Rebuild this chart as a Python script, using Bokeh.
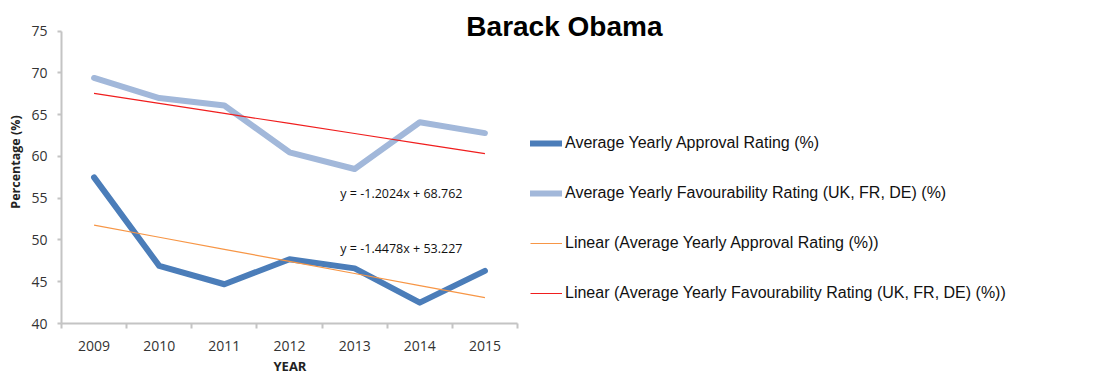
from bokeh.plotting import figure
from bokeh.models import (ColumnDataSource, Legend, LegendItem, Label, FixedTicker,
                          Range1d, Title)
from bokeh.embed import file_html
from bokeh.resources import INLINE

# ---- data ----
years = ["2009", "2010", "2011", "2012", "2013", "2014", "2015"]
approval = [57.5, 46.9, 44.7, 47.7, 46.6, 42.5, 46.3]
favourability = [69.4, 67.0, 66.1, 60.5, 58.5, 64.1, 62.8]
approval_trend_slope = -1.4478
approval_trend_intercept = 53.227
favour_trend_slope = -1.2024
favour_trend_intercept = 68.762
y_ticks = [40, 45, 50, 55, 60, 65, 70, 75]

title_text = "Barack Obama"
x_label = "YEAR"
y_label = "Percentage (%)"
series_names = [
    "Average Yearly Approval Rating (%)",
    "Average Yearly Favourability Rating (UK, FR, DE) (%)",
    "Linear (Average Yearly Approval Rating (%))",
    "Linear (Average Yearly Favourability Rating (UK, FR, DE) (%))",
]
eq_favour = "y = -1.2024x + 68.762"
eq_approval = "y = -1.4478x + 53.227"

xs = list(range(1, len(years) + 1))
approval_fit = [approval_trend_slope * x + approval_trend_intercept for x in xs]
favour_fit = [favour_trend_slope * x + favour_trend_intercept for x in xs]

src = ColumnDataSource(dict(x=xs, approval=approval, favour=favourability,
                            afit=approval_fit, ffit=favour_fit))

# ---- layout ----
W, H = 1095, 376
LEFT, BOTTOM_PX, TOP_AXIS_PX = 61, 323, 30.7     # canvas px
AXIS_RIGHT = 517
px_per_cat = (AXIS_RIGHT - LEFT) / 7.0
px_per_unit = (BOTTOM_PX - TOP_AXIS_PX) / 35.0
frame_w = W - 4 - LEFT
x_end = 0.5 + frame_w / px_per_cat
y_end = 75 + TOP_AXIS_PX / px_per_unit

p = figure(width=W, height=H, output_backend="svg", toolbar_location=None,
           x_range=Range1d(0.5, x_end), y_range=Range1d(40, y_end),
           min_border_left=LEFT, min_border_right=4, min_border_top=0,
           min_border_bottom=H - BOTTOM_PX)
p.outline_line_color = None
p.xgrid.visible = False
p.ygrid.visible = False
p.background_fill_color = "white"
p.border_fill_color = "white"

r_fav = p.line("x", "favour", source=src, line_color="#a2b8da", line_width=6,
               line_join="round", line_cap="round")
r_app = p.line("x", "approval", source=src, line_color="#4b7db9", line_width=6,
               line_join="round", line_cap="round")
r_afit = p.line("x", "afit", source=src, line_color="#f79646", line_width=1.2)
r_ffit = p.line("x", "ffit", source=src, line_color="#f01e1e", line_width=1.2)

axis_color = "#c4c4c4"
tick_font = "Open Sans"
tick_color = "#333333"

# x axis
p.xaxis.bounds = (0.5, 7.5)
p.xaxis.ticker = FixedTicker(ticks=xs, minor_ticks=[x - 0.5 for x in xs] + [7.5])
p.xaxis.major_label_overrides = {x: y for x, y in zip(xs, years)}
p.xaxis.major_tick_out = 0
p.xaxis.major_tick_in = 0
p.xaxis.minor_tick_out = 5
p.xaxis.minor_tick_in = 0
p.xaxis.minor_tick_line_color = axis_color
p.xaxis.minor_tick_line_width = 2
p.xaxis.axis_line_color = axis_color
p.xaxis.axis_line_width = 2
p.xaxis.major_label_text_font = tick_font
p.xaxis.major_label_text_font_size = "14px"
p.xaxis.major_label_text_color = tick_color
p.xaxis.major_label_standoff = 12

# x axis title, placed under the category span
p.add_layout(Title(text=x_label, align="left", offset=212, standoff=2,
                   text_font=tick_font, text_font_style="bold",
                   text_font_size="13px", text_color="#222222"), "below")

# y axis
p.yaxis.bounds = (40, 75)
p.yaxis.ticker = FixedTicker(ticks=y_ticks)
p.yaxis.minor_tick_line_color = None
p.yaxis.major_tick_out = 4
p.yaxis.major_tick_in = 0
p.yaxis.major_tick_line_color = axis_color
p.yaxis.major_tick_line_width = 2
p.yaxis.axis_line_color = axis_color
p.yaxis.axis_line_width = 2
p.yaxis.major_label_text_font = tick_font
p.yaxis.major_label_text_font_size = "14px"
p.yaxis.major_label_text_color = tick_color
p.yaxis.major_label_standoff = 10
p.yaxis.axis_label = y_label
p.yaxis.axis_label_text_font = tick_font
p.yaxis.axis_label_text_font_style = "bold"
p.yaxis.axis_label_text_font_size = "12.5px"
p.yaxis.axis_label_text_color = "#222222"
p.yaxis.axis_label_standoff = 4

# chart title
p.add_layout(Label(x=8.22, y=75.56, text=title_text, text_align="center",
                   text_baseline="alphabetic", text_font="Liberation Sans",
                   text_font_style="bold", text_font_size="28px",
                   text_color="#000000"))

# trend-line equations
for txt, yv in [(eq_favour, 55.54), (eq_approval, 48.94)]:
    p.add_layout(Label(x=4.78, y=yv, text=txt, text_align="left",
                       text_baseline="middle", text_font=tick_font,
                       text_font_size="12.5px", text_color="#111111"))

legend = Legend(items=[
    LegendItem(label=series_names[0], renderers=[r_app]),
    LegendItem(label=series_names[1], renderers=[r_fav]),
    LegendItem(label=series_names[2], renderers=[r_afit]),
    LegendItem(label=series_names[3], renderers=[r_ffit]),
], location=(469, 20))
legend.label_text_font = "Liberation Sans"
legend.label_text_font_size = "16px"
legend.label_text_color = "#111111"
legend.glyph_width = 32
legend.glyph_height = 20
legend.label_height = 20
legend.spacing = 30
legend.label_standoff = 3
legend.padding = 0
legend.margin = 0
legend.border_line_color = None
legend.background_fill_alpha = 0
p.add_layout(legend, "center")

open("out.html", "w").write(file_html(p, INLINE))
